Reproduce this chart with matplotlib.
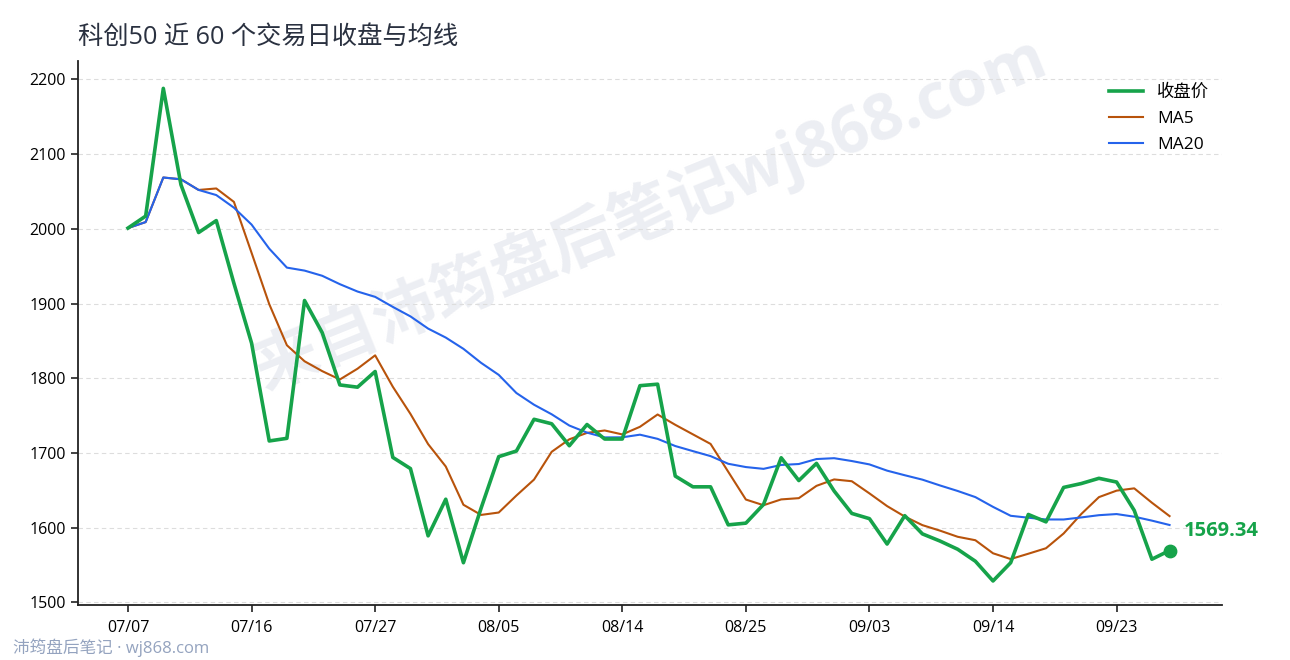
import matplotlib
matplotlib.use("Agg")
import matplotlib.pyplot as plt
import numpy as np
import pandas as pd

plt.rcParams["font.family"] = ["Open Sans", "Noto Sans CJK SC", "DejaVu Sans"]

# ---------- data ----------
close = [
    2001, 2017, 2188, 2059, 1995, 2011, 1927, 1847, 1716, 1719.5,
    1904, 1861, 1791, 1788, 1809, 1694, 1679, 1589, 1638, 1553,
    1626, 1695, 1702.5, 1745, 1739, 1709.6, 1738, 1718.6, 1718.6, 1790,
    1792, 1669, 1654.6, 1654.6, 1603.7, 1606, 1631, 1693.5, 1663, 1686,
    1649, 1619, 1612, 1578, 1616, 1591.6, 1582, 1571, 1555, 1528.6,
    1553, 1617.6, 1607.7, 1653.8, 1659, 1666, 1661, 1623, 1557.7, 1569.34,
]
tick_labels = ["07/07", "07/16", "07/27", "08/05", "08/14",
               "08/25", "09/03", "09/14", "09/23"]

# moving averages (short windows at the start use what is available)
s = pd.Series(close)
ma5 = s.rolling(5, min_periods=1).mean()
ma20 = s.rolling(20, min_periods=1).mean()
x = np.arange(len(close))

GREEN = "#16a34a"
ORANGE = "#b8530b"
BLUE = "#2563eb"

fig = plt.figure(figsize=(12.9, 6.6), dpi=100)
ax = fig.add_axes([0.0605, 0.084, 0.8865, 0.824])
ax.patch.set_alpha(0)

# watermark, kept under the lines
ax.text(0.504, 0.677, "来自沛筠盘后笔记wj868.com", transform=fig.transFigure,
        fontsize=46, fontweight="bold", color="#eceef3", rotation=22,
        ha="center", va="center", zorder=0.5, clip_on=False)

ax.plot(x, close, color=GREEN, lw=2.6, label="收盘价", zorder=4)
ax.plot(x, ma5, color=ORANGE, lw=1.5, label="MA5", zorder=3)
ax.plot(x, ma20, color=BLUE, lw=1.5, label="MA20", zorder=3)

# last point
ax.scatter([x[-1]], [close[-1]], s=80, color=GREEN, zorder=5)
ax.annotate(f"{close[-1]:.2f}", (x[-1], close[-1]), xytext=(10, 14),
            textcoords="offset points", color=GREEN, fontsize=14.5,
            fontweight="bold", va="center", ha="left")

ax.set_xlim(-2.83, 61.95)
ax.set_ylim(1497, 2225)
ax.set_yticks([1500, 1600, 1700, 1800, 1900, 2000, 2100, 2200])
ax.set_xticks(x[::7])
ax.set_xticklabels(tick_labels)
ax.tick_params(labelsize=11.5, length=5, width=1.2, color="#222222")
ax.tick_params(axis="x", pad=6)
ax.grid(axis="y", ls=(0, (4, 3)), color="#dddddd", lw=0.8)
ax.set_axisbelow(True)
for side in ["top", "right"]:
    ax.spines[side].set_visible(False)
for side in ["left", "bottom"]:
    ax.spines[side].set_linewidth(1.3)
    ax.spines[side].set_color("#222222")

ax.legend(loc="upper right", frameon=False, fontsize=12.5,
          bbox_to_anchor=(1.003, 0.985), handlelength=2.0,
          labelspacing=0.58)

fig.text(0.0605, 0.943, "科创50 近 60 个交易日收盘与均线", fontsize=18.2,
         color="#2a3140", ha="left", va="center")
fig.text(0.01, 0.018, "沛筠盘后笔记 · wj868.com", fontsize=12,
         color="#94a3bf", ha="left", va="center")

fig.savefig("out.png", dpi=100)
